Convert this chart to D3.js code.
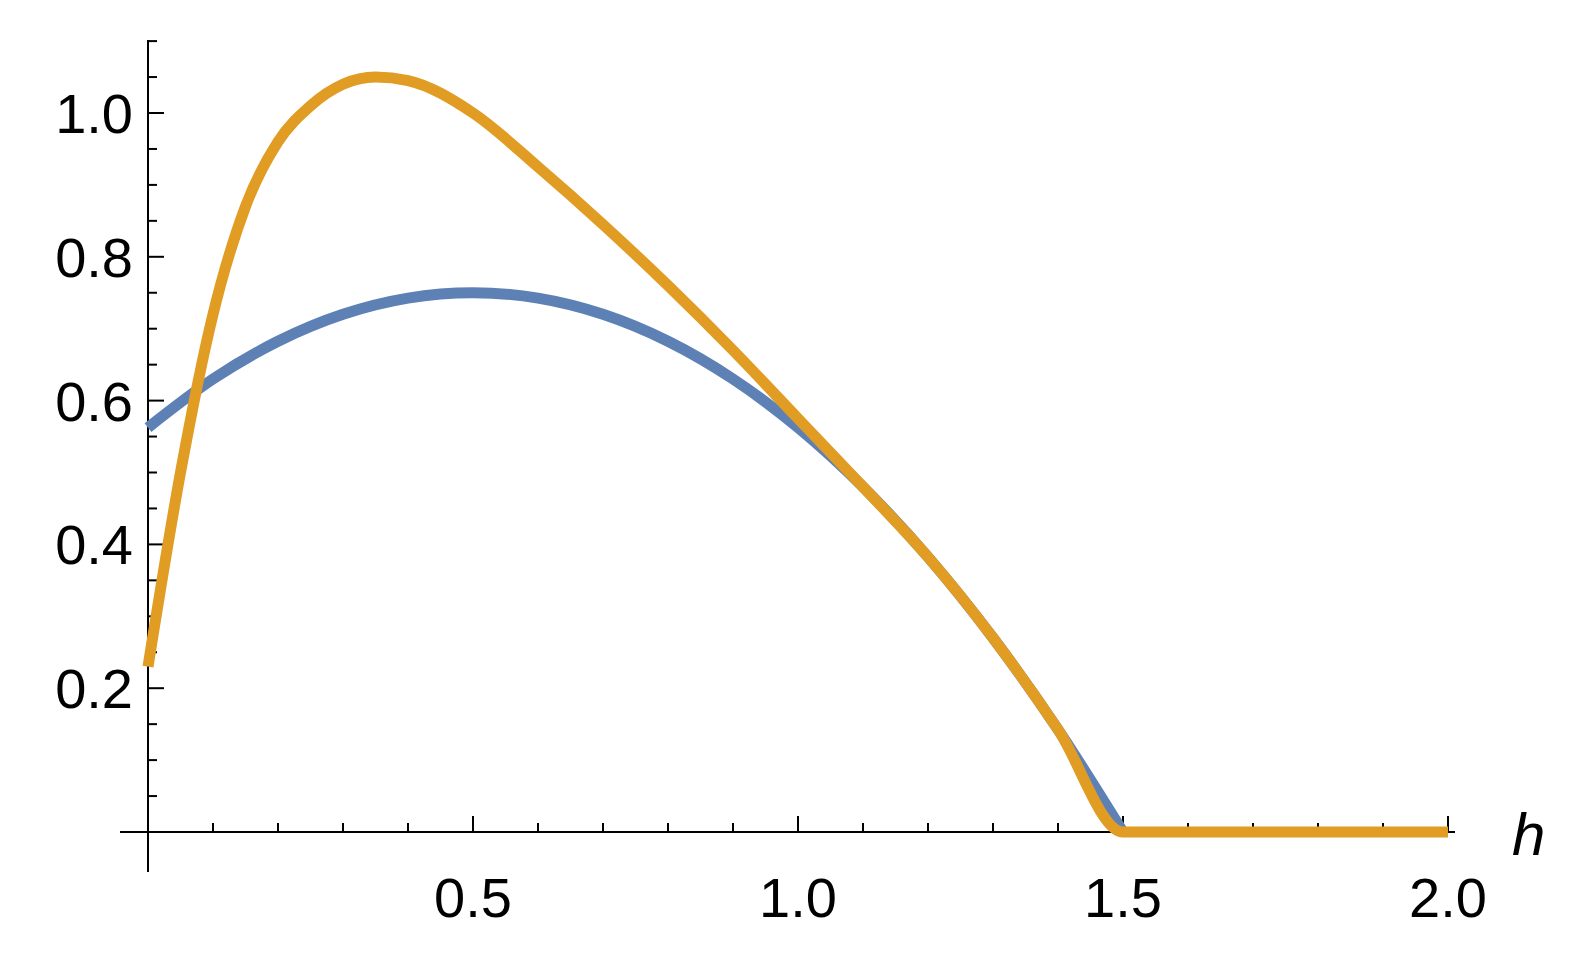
<!DOCTYPE html><html><head><meta charset="utf-8">
<script src="https://cdn.jsdelivr.net/npm/d3@7"></script>
<style>body{margin:0;background:#fff}</style></head><body>
<svg id="c" width="1578" height="959"></svg>
<script>
const blueH=[0,0.1,0.2,0.3,0.4,0.5,0.6,0.7,0.8,0.9,1.0,1.1,1.2,1.3,1.4,1.5];
const blueV=[0.5625,0.63,0.6825,0.72,0.7425,0.75,0.7425,0.72,0.6825,0.63,0.5625,0.48,0.3825,0.27,0.1425,0];
const orangeH=[0,0.05,0.1,0.15,0.2,0.25,0.3,0.35,0.4,0.5,0.6,0.7,0.8,0.9,1.0,1.1,1.2,1.3,1.4,1.5,1.75,2.0];
const orangeV=[0.23,0.5,0.72,0.87,0.96,1.01,1.04,1.05,1.045,1.0,0.925,0.845,0.76,0.67,0.575,0.48,0.3825,0.27,0.1425,0,0,0];
const xMajor=[0.5,1.0,1.5,2.0];
const yMajor=[0.2,0.4,0.6,0.8,1.0];
const svg=d3.select("#c");
const x=d3.scaleLinear().domain([0,2]).range([148,1448]);
const y=d3.scaleLinear().domain([0,1]).range([832,113]);
const g=svg.append("g");
g.append("line").attr("x1",120).attr("x2",1455).attr("y1",y(0)).attr("y2",y(0)).attr("stroke","#000").attr("stroke-width",2);
g.append("line").attr("x1",x(0)).attr("x2",x(0)).attr("y1",40).attr("y2",872).attr("stroke","#000").attr("stroke-width",2);
const xt=d3.range(1,21).map(i=>i/10);
g.selectAll(".xt").data(xt).join("line").attr("x1",d=>x(d)).attr("x2",d=>x(d)).attr("y1",y(0)).attr("y2",d=>y(0)-(Math.abs(d*2-Math.round(d*2))<1e-6?16:9)).attr("stroke","#000").attr("stroke-width",2);
const yt=d3.range(1,23).map(i=>i/20);
g.selectAll(".yt").data(yt).join("line").attr("y1",d=>y(d)).attr("y2",d=>y(d)).attr("x1",x(0)).attr("x2",d=>x(0)+(Math.abs(d*5-Math.round(d*5))<1e-6?16:9)).attr("stroke","#000").attr("stroke-width",2);
g.selectAll(".xl").data(xMajor).join("text").attr("x",d=>x(d)).attr("y",917).attr("text-anchor","middle").attr("font-family","Liberation Sans, Arial").attr("font-size",56).text(d=>d.toFixed(1));
g.selectAll(".yl").data(yMajor).join("text").attr("x",133).attr("y",d=>y(d)+20).attr("text-anchor","end").attr("font-family","Liberation Sans, Arial").attr("font-size",56).text(d=>d.toFixed(1));
g.append("text").attr("x",1512).attr("y",855).attr("font-family","Liberation Sans, Arial").attr("font-style","italic").attr("font-size",60).text("h");
const line=d3.line().x(d=>x(d[0])).y(d=>y(d[1])).curve(d3.curveMonotoneX);
svg.append("path").attr("d",line(blueH.map((h,i)=>[h,blueV[i]]))).attr("fill","none").attr("stroke","#5E81B5").attr("stroke-width",11);
svg.append("path").attr("d",line(orangeH.map((h,i)=>[h,orangeV[i]]))).attr("fill","none").attr("stroke","#E19C24").attr("stroke-width",11);
</script></body></html>
